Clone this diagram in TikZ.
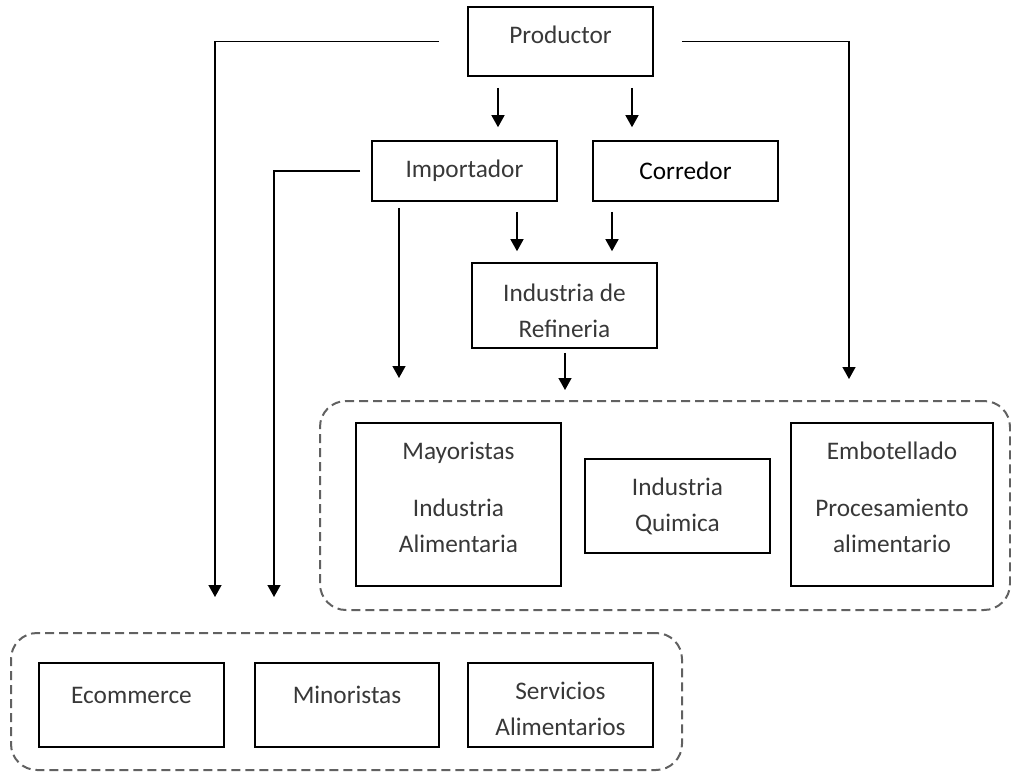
\documentclass[tikz,border=0pt]{standalone}
\usepackage{fontspec}
\setmainfont{Carlito}
\usetikzlibrary{calc,positioning,arrows.meta}

\begin{document}
\begin{tikzpicture}[x=1pt,y=-1pt,
  box/.style={draw=black,line width=1.6pt,text=black!78,align=center,inner sep=0pt,
    font=\fontsize{25.3}{36}\selectfont},
  group/.style={draw=black!62,line width=2pt,dash pattern=on 9pt off 5pt,
    rounded corners=26pt,inner sep=0pt},
  arr/.style={line width=1.4pt,-{Triangle[length=12pt,width=13pt]}}]

\useasboundingbox (0,0) rectangle (1011,772);

% dashed groups
\node[group,minimum width=690pt,minimum height=209pt] (grpR) at (665,505.5) {};
\node[group,minimum width=671pt,minimum height=137pt] (grpB) at (346.5,701.5) {};

% boxes
\node[box,minimum width=185pt,minimum height=69pt,text depth=14pt] (prod) at (560.5,41.5) {Productor};
\node[box,minimum width=185pt,minimum height=60pt] (imp) at (464.5,171) {Importador};
\node[box,minimum width=185pt,minimum height=60pt,text=black] (corr) at (685.5,171) {Corredor};
\node[box,minimum width=185pt,minimum height=85pt,text height=64pt] (ref) at (564.5,305.5) {Industria de\\Refineria};
\node[box,minimum width=205pt,minimum height=163pt,text depth=14pt] (may) at (458.5,504.5) {Mayoristas\\[21pt]Industria\\Alimentaria};
\node[box,minimum width=185pt,minimum height=94pt] (quim) at (677.5,506) {Industria\\Quimica};
\node[box,minimum width=202pt,minimum height=163pt,text depth=14pt] (emb) at (892,504.5) {Embotellado\\[21pt]Procesamiento\\alimentario};
\node[box,minimum width=185pt,minimum height=84pt,text depth=20pt] (ecom) at (131.5,705) {Ecommerce};
\node[box,minimum width=184pt,minimum height=84pt,text depth=20pt] (mino) at (347,705) {Minoristas};
\node[box,minimum width=185pt,minimum height=84pt,text height=62pt] (serv) at (560.5,705) {Servicios\\Alimentarios};

% free ends above the groups
\coordinate (dropA) at (215,633);
\coordinate (dropB) at (274,633);
\coordinate (dropC) at (849,401);

% connectors
\draw[arr,shorten <=28pt,shorten >=36pt] (prod.west) -| (dropA);
\draw[arr,shorten <=28pt,shorten >=22pt] (prod.east) -| (dropC);
\draw[arr,shorten <=11pt,shorten >=36pt] (imp.west) -| (dropB);
\draw[arr,shorten <=11pt,shorten >=13pt] ([xshift=-62.5pt]prod.south) -- ([xshift=-62.5pt]prod.south |- imp.north);
\draw[arr,shorten <=11pt,shorten >=13pt] ([xshift=71.5pt]prod.south) -- ([xshift=71.5pt]prod.south |- corr.north);
\draw[arr,shorten <=6pt,shorten >=22pt] ([xshift=-65.5pt]imp.south) -- ([xshift=-65.5pt]imp.south |- grpR.north);
\draw[arr,shorten <=10pt,shorten >=11pt] ([xshift=52.5pt]imp.south) -- ([xshift=52.5pt]imp.south |- ref.north);
\draw[arr,shorten <=10pt,shorten >=11pt] ([xshift=-73.5pt]corr.south) -- ([xshift=-73.5pt]corr.south |- ref.north);
\draw[arr,shorten <=4pt,shorten >=10pt] ([xshift=0.5pt]ref.south) -- ([xshift=0.5pt]ref.south |- grpR.north);
\end{tikzpicture}
\end{document}
